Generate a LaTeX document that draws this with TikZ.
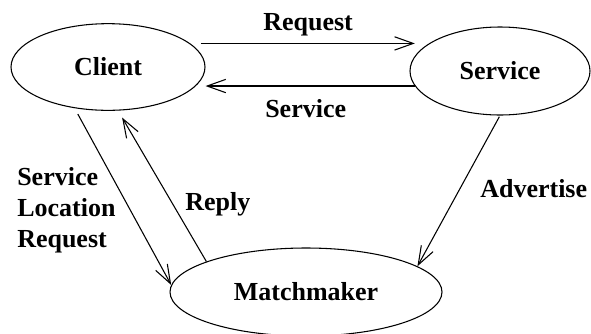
\documentclass[tikz,border=0pt]{standalone}
\usepackage{fontspec}
\setmainfont{Liberation Serif}
\usetikzlibrary{shapes.geometric,arrows.meta}
\begin{document}
\begin{tikzpicture}[x=0.75pt,y=-0.75pt,
party/.style ={ellipse, draw, line width=0.8pt,
  inner sep=0pt, font=\fontsize{19.5}{23.25}\selectfont\bfseries
},
lbl/.style ={anchor=base west, inner sep=0pt,
  font=\fontsize{19.5}{23.25}\selectfont\bfseries
},
msg/.style ={line width=0.8pt, -{Straight Barb[length=14pt,width=10pt]}}]
\useasboundingbox (0,0) rectangle (591,333);
% the three parties
\node (client) at (108,67) [party, minimum width=145.5pt, minimum height=65pt] {Client};
\node (service) at (500,71) [party, minimum width=135pt, minimum height=66pt] {Service};
\node (matcher) at (306,292) [party, minimum width=204pt, minimum height=66pt] {Matchmaker};
% labels
\node (lreq) at (263,30) [lbl] {Request};
\node (lsrv) at (265,117) [lbl] {Service};
\node (lslr) at (17,167) [lbl, anchor=north west, align=left] {Service\\Location\\Request};
\node (lrep) at (185,210) [lbl] {Reply};
\node (ladv) at (480,197) [lbl] {Advertise};
% messages
\draw[msg, shorten <=8pt, shorten >=-4pt] (client.16) -- (client.16 -| service.west);
\draw[msg] (service.190) -- (service.190 -| client.east);
\draw[msg, shorten <=5pt] (client.231) -- (matcher.177);
\draw[msg, shorten >=6pt] (matcher.163) -- (client.283);
\draw[msg, shorten <=1pt] (service.south) -- (matcher.13);
\end{tikzpicture}
\end{document}
